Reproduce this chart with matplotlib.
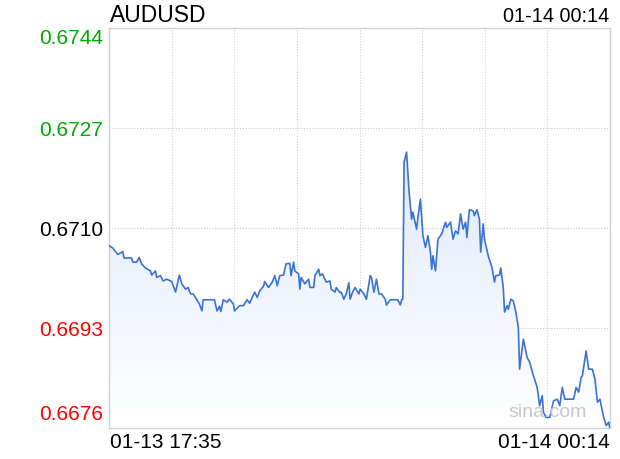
import numpy as np
import matplotlib.pyplot as plt
import matplotlib.transforms as mtransforms
from matplotlib.patches import PathPatch

plt.rcParams['font.family'] = ['Liberation Sans', 'DejaVu Sans']

# minutes after 01-13 17:35
minutes = [0, 3, 7, 11, 12, 18, 19, 22, 24, 26, 29, 33, 34, 37, 38, 41, 43, 46, 50, 53,
           56, 58, 61, 63, 65, 67, 70, 72, 74, 75, 84, 86, 88, 89, 91, 94, 96, 99, 100, 104,
           107, 110, 112, 116, 118, 120, 123, 124, 127, 130, 132, 134, 136, 139, 141, 144, 145, 147, 148, 151,
           152, 153, 156, 159, 160, 163, 164, 167, 168, 170, 173, 176, 177, 180, 181, 184, 185, 187, 189, 191,
           192, 194, 196, 199, 200, 203, 205, 208, 209, 211, 213, 215, 217, 220, 221, 224, 230, 232, 233, 234,
           235, 237, 238, 239, 241, 242, 245, 246, 248, 250, 252, 254, 256, 257, 258, 260, 262, 265, 268, 269,
           272, 274, 276, 278, 280, 282, 284, 285, 287, 290, 291, 293, 295, 296, 298, 299, 302, 305, 307, 308,
           311, 312, 314, 315, 317, 318, 320, 322, 324, 326, 327, 330, 333, 335, 338, 341, 343, 345, 346, 348,
           351, 354, 357, 359, 361, 363, 370, 372, 374, 376, 377, 380, 382, 385, 387, 389, 391, 392, 394, 396,
           398, 399]
prices = [0.67070, 0.67066, 0.67055, 0.67060, 0.67049, 0.67049, 0.67042, 0.67042, 0.67050, 0.67039,
          0.67032, 0.67027, 0.67020, 0.67027, 0.67016, 0.67019, 0.67010, 0.67013, 0.67009, 0.66991,
          0.67020, 0.67005, 0.66996, 0.66999, 0.66988, 0.66988, 0.66978, 0.66971, 0.66959, 0.66978,
          0.66978, 0.66959, 0.66967, 0.66958, 0.66978, 0.66974, 0.66979, 0.66971, 0.66959, 0.66968,
          0.66968, 0.66978, 0.66972, 0.66991, 0.66982, 0.66993, 0.67001, 0.67009, 0.66999, 0.67008,
          0.67019, 0.67002, 0.67019, 0.67020, 0.67039, 0.67040, 0.67019, 0.67042, 0.67027, 0.67022,
          0.66996, 0.67016, 0.67005, 0.67013, 0.66999, 0.66999, 0.67019, 0.67030, 0.67019, 0.67022,
          0.67008, 0.67010, 0.66996, 0.66991, 0.66999, 0.66990, 0.66991, 0.66979, 0.66988, 0.67007,
          0.66979, 0.66991, 0.66999, 0.66988, 0.66996, 0.66988, 0.66979, 0.67019, 0.67016, 0.66991,
          0.67013, 0.66988, 0.66988, 0.66979, 0.66969, 0.66978, 0.66978, 0.66969, 0.66978, 0.66979,
          0.67212, 0.67229, 0.67195, 0.67161, 0.67115, 0.67127, 0.67098, 0.67118, 0.67149, 0.67087,
          0.67067, 0.67087, 0.67059, 0.67030, 0.67053, 0.67027, 0.67081, 0.67090, 0.67110, 0.67101,
          0.67110, 0.67081, 0.67095, 0.67090, 0.67124, 0.67098, 0.67110, 0.67084, 0.67131, 0.67129,
          0.67121, 0.67131, 0.67115, 0.67059, 0.67107, 0.67081, 0.67053, 0.67033, 0.67008, 0.67019,
          0.67020, 0.67032, 0.66999, 0.66957, 0.66968, 0.66962, 0.66979, 0.66976, 0.66957, 0.66931,
          0.66860, 0.66911, 0.66880, 0.66872, 0.66849, 0.66829, 0.66798, 0.66815, 0.66787, 0.66778,
          0.66778, 0.66806, 0.66809, 0.66798, 0.66829, 0.66809, 0.66809, 0.66829, 0.66821, 0.66846,
          0.66849, 0.66891, 0.66860, 0.66860, 0.66843, 0.66804, 0.66809, 0.66798, 0.66778, 0.66764,
          0.66770, 0.66758]

yticks = [0.6676, 0.6693, 0.6710, 0.6727, 0.6744]
ytick_colors = ['#ff0000', '#ff0000', '#000000', '#00aa00', '#00aa00']
symbol = "AUDUSD"
start_label = "01-13 17:35"
end_label = "01-14 00:14"
total_minutes = 399

fig = plt.figure(figsize=(6.2, 4.6), dpi=100)
ax = fig.add_axes([109 / 620, 1 - 429 / 460, 501 / 620, 400 / 460])

# gradient fill under the line
grad = np.linspace(1, 0, 256).reshape(-1, 1)
top_c = np.array([0.88, 0.92, 0.985])
bot_c = np.array([1.0, 1.0, 1.0])
img = bot_c + grad[..., None] * (top_c - bot_c)
im = ax.imshow(img, extent=[0, total_minutes, yticks[0], max(prices)],
               aspect='auto', origin='upper', zorder=1)
poly = ax.fill_between(minutes, prices, yticks[0], color='none', lw=0)
clip = PathPatch(poly.get_paths()[0], transform=ax.transData, facecolor='none', edgecolor='none')
ax.add_patch(clip)
im.set_clip_path(clip)
ax.set_xlim(0, total_minutes)
ax.set_ylim(yticks[0], yticks[-1])

ax.plot(minutes, prices, color='#3c72d0', lw=1.2, zorder=3)

# grid
for k in range(1, 8):
    ax.axvline(total_minutes * k / 8, color='#d0d0d0', lw=0.8, ls=(0, (1, 1.5)), zorder=0.5)
for v in yticks[1:-1]:
    ax.axhline(v, color='#c8c8c8', lw=0.8, ls=(0, (1, 1.5)), zorder=0.5)

for s in ax.spines.values():
    s.set_color('#d0d0d0')
    s.set_linewidth(1)

ax.set_xticks([])
ax.set_yticks(yticks)
ax.set_yticklabels([f"{v:.4f}" for v in yticks], fontsize=15)
ax.tick_params(axis='y', length=0, pad=4)
labels = ax.get_yticklabels()
for lab, c in zip(labels, ytick_colors):
    lab.set_color(c)
labels[0].set_va('bottom')
labels[0].set_transform(labels[0].get_transform() +
                        mtransforms.ScaledTranslation(0, 5 / 100, fig.dpi_scale_trans))
labels[-1].set_va('top')

ax.text(0.002, -0.035, start_label, transform=ax.transAxes, ha='left', va='center', fontsize=15)
ax.text(1.0, -0.035, end_label, transform=ax.transAxes, ha='right', va='center', fontsize=15)
ax.text(0.002, 1.035, symbol, transform=ax.transAxes, ha='left', va='center', fontsize=16.5)
ax.text(0.998, 1.03, end_label, transform=ax.transAxes, ha='right', va='center', fontsize=14.3)
ax.text(0.875, 0.02, "sina.com", transform=ax.transAxes, ha='center', va='bottom',
        fontsize=14, color='#c8c8c8', zorder=4)

plt.savefig('out.png', dpi=100)
